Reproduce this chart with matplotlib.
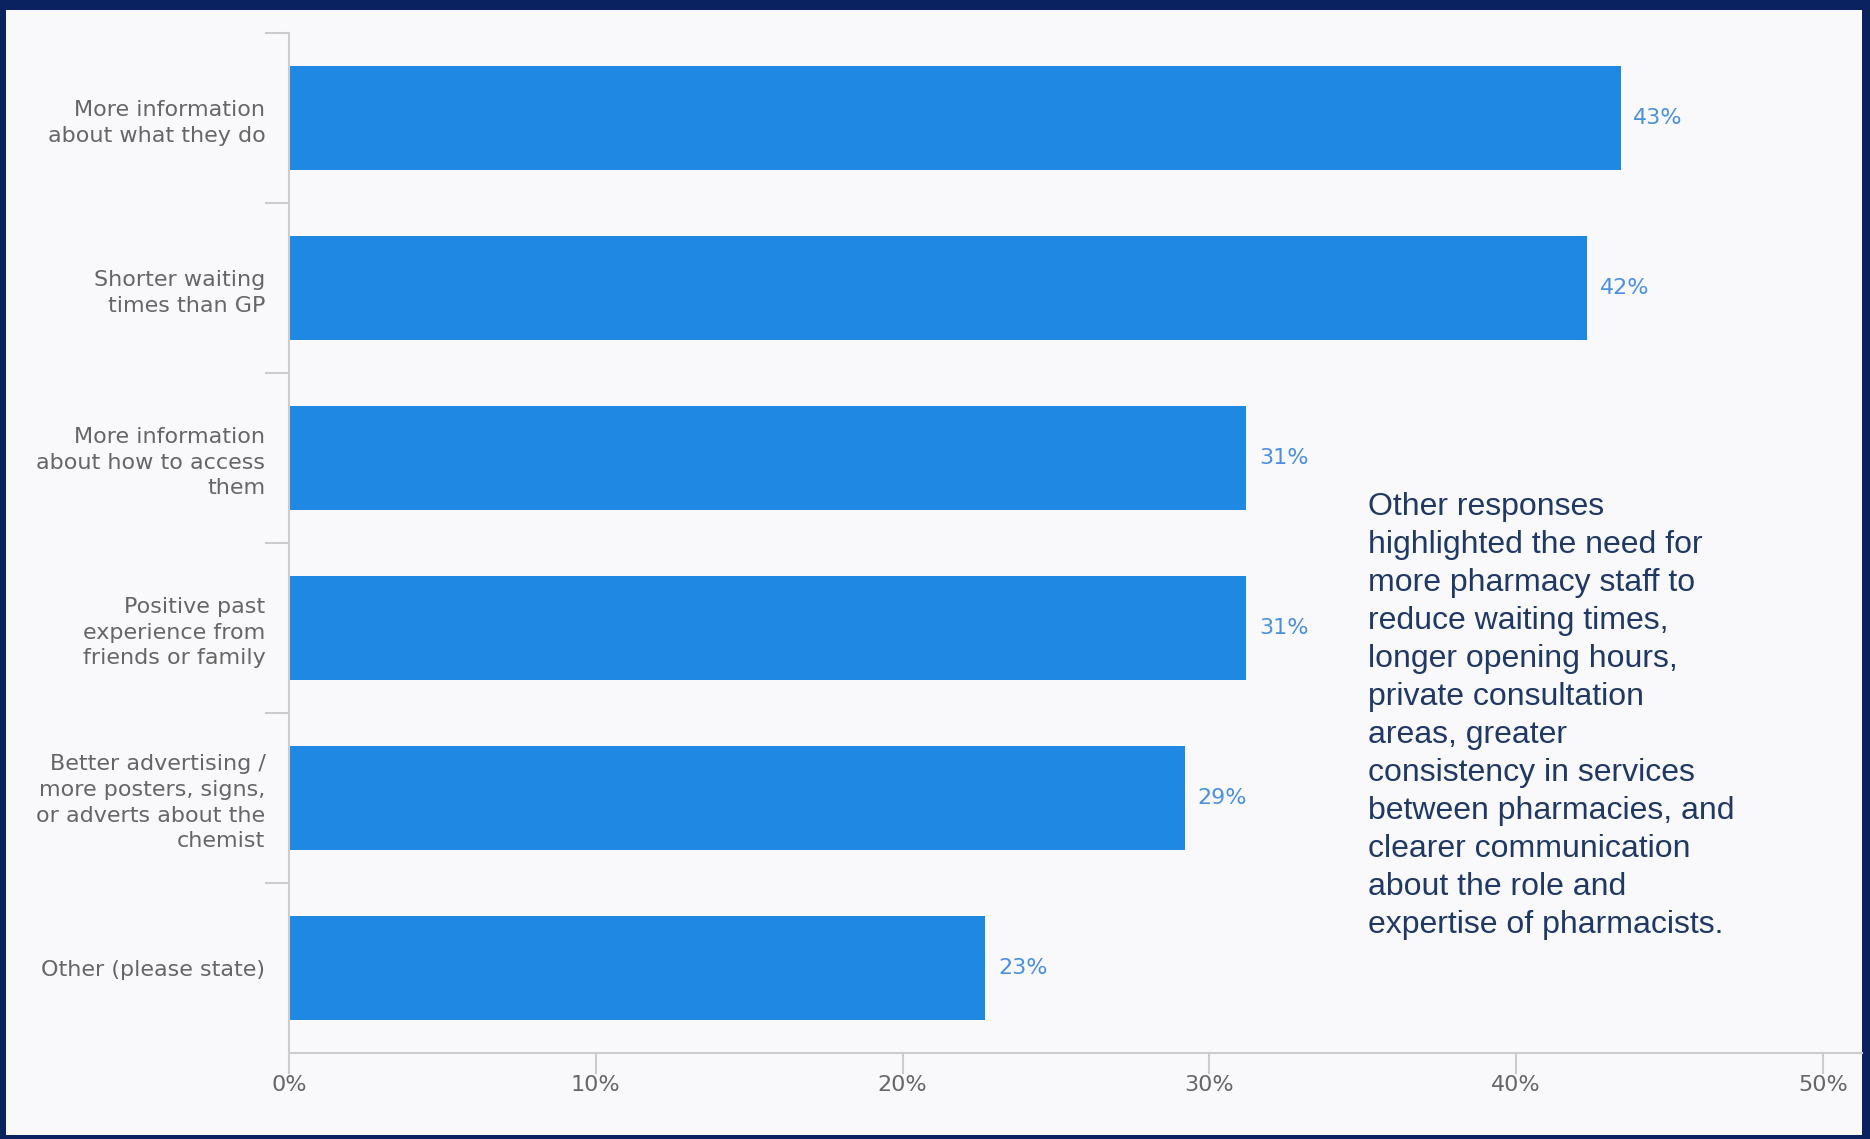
import numpy as np
import matplotlib.pyplot as plt
from matplotlib.patches import Rectangle

# data
categories = [
    "More information\nabout what they do",
    "Shorter waiting\ntimes than GP",
    "More information\nabout how to access\nthem",
    "Positive past\nexperience from\nfriends or family",
    "Better advertising /\nmore posters, signs,\nor adverts about the\nchemist",
    "Other (please state)",
]
values = [43.4, 42.3, 31.2, 31.2, 29.2, 22.7]
value_labels = ["43%", "42%", "31%", "31%", "29%", "23%"]
xticks = [0, 10, 20, 30, 40, 50]
xtick_labels = ["0%", "10%", "20%", "30%", "40%", "50%"]

note = ("Other responses\nhighlighted the need for\nmore pharmacy staff to\n"
        "reduce waiting times,\nlonger opening hours,\nprivate consultation\n"
        "areas, greater\nconsistency in services\nbetween pharmacies, and\n"
        "clearer communication\nabout the role and\nexpertise of pharmacists.")

bg = "#f9f9fc"
navy = "#0b2260"
bar_col = "#1f88e2"
lbl_col = "#4a8fe0"
tick_col = "#666666"
grey = "#cccccc"

W, H = 1870, 1139
fig = plt.figure(figsize=(W / 100, H / 100), dpi=100, facecolor=navy)
# light panel inside the navy frame
fig.patches.append(Rectangle((6 / W, 4 / H), (1862 - 6) / W, (1139 - 10 - 4) / H,
                             transform=fig.transFigure, facecolor=bg,
                             edgecolor="none", zorder=-5))

ax = fig.add_axes([289 / W, 1 - 1053 / H, (1862 - 289) / W, (1053 - 33) / H])
ax.set_facecolor(bg)

y = np.arange(len(categories))
ax.barh(y, values, height=0.61, color=bar_col, zorder=2)
for yi, v, s in zip(y, values, value_labels):
    ax.text(v + 0.42, yi, s, va="center", ha="left", fontsize=16,
            color=lbl_col, fontfamily="DejaVu Sans")

ax.set_ylim(len(categories) - 0.5, -0.5)
ax.set_xlim(0, 50 * (1862 - 289) / (1823 - 289))

ax.set_yticks(y)
ax.set_yticklabels(categories, fontsize=16, color=tick_col, linespacing=1.35)
ax.tick_params(axis="y", which="major", length=0, pad=17)
ax.set_yticks(np.arange(-0.5, len(categories) - 0.5, 1), minor=True)
ax.tick_params(axis="y", which="minor", length=17, width=1.5, color=grey)

ax.set_xticks(xticks)
ax.set_xticklabels(xtick_labels, fontsize=16, color=tick_col)
ax.tick_params(axis="x", length=15, width=1.5, color=grey, pad=1)

for side in ["top", "right"]:
    ax.spines[side].set_visible(False)
for side in ["left", "bottom"]:
    ax.spines[side].set_color(grey)
    ax.spines[side].set_linewidth(1.5)

fig.text(1368 / W, 1 - 716 / H, note, ha="left", va="center",
         fontsize=23, color="#1f3864", fontfamily="Liberation Sans",
         linespacing=1.35)

fig.savefig("out.png", dpi=100, facecolor=navy)
